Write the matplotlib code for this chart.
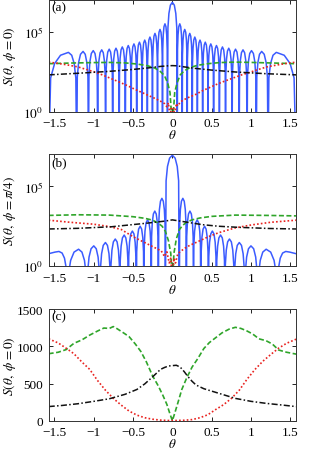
import numpy as np
import matplotlib
matplotlib.use('Agg')
from matplotlib import pyplot as plt

plt.rcParams['font.family'] = ['Liberation Serif', 'DejaVu Serif']
plt.rcParams['mathtext.fontset'] = 'stix'
plt.rcParams['font.size'] = 9
plt.rcParams['axes.linewidth'] = 0.7

HALF_PI = np.pi / 2

# ---- panel (a): S(theta, phi=0), log scale ----
# blue pattern, theta >= 0 side (mirrored): zeros, side lobe maxima (log10)
a_nulls = [0.0625, 0.1253, 0.1886, 0.2527, 0.3176, 0.3844, 0.4529, 0.5236,
           0.5974, 0.6751, 0.7580, 0.8481, 0.9484, 1.0654, 1.2153, 1.5708]
a_peak_theta = [0.094, 0.157, 0.221, 0.285, 0.351, 0.418, 0.488, 0.560,
                0.636, 0.716, 0.802, 0.897, 1.005, 1.134, 1.320]
a_peak_exp = [5.5, 5.15, 4.9, 4.67, 4.48, 4.35, 4.24, 4.14,
              4.05, 3.97, 3.91, 3.87, 3.82, 3.77, 3.71]
a_main_exp = 6.85

a_green_theta = [-1.571, -1.3, -1.0, -0.8, -0.6, -0.45, -0.32, -0.22, -0.15, -0.1, -0.06, -0.03, 0.0,
                 0.03, 0.06, 0.1, 0.15, 0.22, 0.32, 0.45, 0.6, 0.8, 1.0, 1.3, 1.571]
a_green_exp = [3.0, 3.04, 3.07, 3.08, 3.05, 2.98, 2.88, 2.72, 2.5, 2.25, 1.8, 1.2, -1.0,
               1.2, 1.8, 2.3, 2.55, 2.75, 2.9, 3.0, 3.07, 3.1, 3.08, 3.04, 3.0]

a_red_theta = [-1.571, -1.45, -1.33, -1.2, -1.08, -0.98, -0.88, -0.77, -0.66, -0.56, -0.47, -0.38,
               -0.3, -0.22, -0.15, -0.1, -0.07, -0.05, -0.03, -0.015, 0.0, 0.015, 0.03, 0.05, 0.07,
               0.1, 0.15, 0.22, 0.3, 0.38, 0.47, 0.56, 0.66, 0.77, 0.88, 0.98, 1.08, 1.2, 1.33,
               1.45, 1.571]
a_red_exp = [3.1, 3.02, 2.92, 2.8, 2.62, 2.47, 2.28, 2.05, 1.82, 1.6, 1.38, 1.18,
             1.0, 0.82, 0.65, 0.5, 0.3, 0.55, -0.3, 0.2, -1.5, 0.2, -0.3, 0.5, 0.35,
             0.6, 0.75, 0.92, 1.08, 1.3, 1.5, 1.7, 1.9, 2.1, 2.3, 2.45, 2.62, 2.8, 2.92,
             3.02, 3.1]

a_black_theta = [-1.571, -1.2, -0.8, -0.5, -0.3, -0.15, -0.05, 0.0, 0.05, 0.15, 0.3, 0.5, 0.8, 1.2, 1.571]
a_black_exp = [2.3, 2.4, 2.52, 2.64, 2.74, 2.83, 2.87, 2.88, 2.87, 2.8, 2.7, 2.6, 2.48, 2.37, 2.3]

# ---- panel (b): S(theta, phi=pi/4), log scale ----
b_nulls = [0.0885, 0.1777, 0.2684, 0.3614, 0.4577, 0.5589, 0.6672, 0.7854,
           0.9196, 1.0840, 1.3350]
b_peak_theta = [0.133, 0.223, 0.315, 0.409, 0.508, 0.612, 0.725, 0.850, 0.998, 1.191]
b_peak_exp = [4.25, 3.45, 2.9, 2.5, 2.2, 1.95, 1.7, 1.48, 1.27, 1.06]
b_main_exp = 6.95
b_edge_theta = [1.335, 1.345, 1.37, 1.40, 1.44, 1.49, 1.571]
b_edge_exp = [-3.0, -0.2, 0.5, 0.82, 0.92, 0.88, 0.78]

b_green_theta = [-1.571, -1.2, -0.8, -0.5, -0.35, -0.25, -0.18, -0.13, -0.09, -0.05, -0.02, 0.0,
                 0.02, 0.05, 0.09, 0.13, 0.18, 0.25, 0.35, 0.5, 0.8, 1.2, 1.571]
b_green_exp = [3.18, 3.22, 3.2, 3.1, 3.0, 2.88, 2.7, 2.5, 2.2, 1.6, 0.8, -1.0,
               0.8, 1.7, 2.3, 2.55, 2.75, 2.9, 3.02, 3.12, 3.2, 3.18, 3.15]

b_red_theta = [-1.571, -1.3, -1.0, -0.8, -0.65, -0.5, -0.38, -0.28, -0.2, -0.14, -0.1, -0.07, -0.04,
               -0.02, 0.0, 0.02, 0.04, 0.07, 0.1, 0.15, 0.22, 0.33, 0.46, 0.59, 0.8, 1.0, 1.25, 1.571]
b_red_exp = [2.88, 2.75, 2.63, 2.48, 2.3, 1.85, 1.55, 1.3, 1.1, 0.95, 0.6, 0.9, 0.2,
             0.5, -1.0, 0.5, 0.2, 0.8, 0.9, 1.1, 1.3, 1.55, 1.85, 2.1, 2.4, 2.58, 2.75, 2.88]

b_black_theta = [-1.571, -1.2, -0.77, -0.35, -0.1, 0.0, 0.18, 0.38, 0.59, 0.81, 1.23, 1.571]
b_black_exp = [2.33, 2.37, 2.47, 2.68, 2.82, 2.9, 2.76, 2.6, 2.5, 2.44, 2.36, 2.33]

# ---- panel (c): S(theta, phi=0), linear scale ----
c_green_theta = [-1.571, -1.45, -1.35, -1.25, -1.15, -1.05, -0.95, -0.87, -0.8, -0.75, -0.7, -0.62,
                 -0.55, -0.47, -0.4, -0.33, -0.25, -0.18, -0.12, -0.07, -0.03, 0.0, 0.03, 0.07,
                 0.12, 0.18, 0.25, 0.32, 0.4, 0.47, 0.55, 0.63, 0.72, 0.8, 0.87, 0.94, 1.02,
                 1.1, 1.19, 1.27, 1.35, 1.45, 1.571]
c_green = [900, 920, 955, 1040, 1085, 1150, 1205, 1245, 1240, 1265, 1235, 1180,
           1130, 1030, 930, 790, 600, 470, 340, 220, 90, 0, 100, 240,
           420, 570, 720, 830, 970, 1050, 1115, 1180, 1230, 1255, 1240, 1210, 1165,
           1100, 1075, 1030, 950, 920, 895]

c_red_theta = [-1.571, -1.45, -1.35, -1.25, -1.15, -1.05, -0.95, -0.85, -0.75, -0.65, -0.55, -0.45,
               -0.35, -0.25, -0.15, -0.05, 0.0, 0.05, 0.15, 0.25, 0.35, 0.45, 0.55, 0.65, 0.75,
               0.85, 0.95, 1.05, 1.15, 1.25, 1.35, 1.45, 1.571]
c_red = [1100, 1045, 975, 900, 790, 690, 540, 410, 300, 210, 130, 75,
         40, 20, 8, 3, 2, 3, 6, 15, 40, 80, 150, 215, 300,
         410, 560, 690, 800, 890, 975, 1040, 1095]

c_black_theta = [-1.571, -1.4, -1.2, -1.0, -0.8, -0.6, -0.45, -0.35, -0.25, -0.2, -0.15, -0.1, -0.05,
                 0.0, 0.05, 0.1, 0.15, 0.2, 0.25, 0.3, 0.4, 0.6, 0.8, 1.0, 1.2, 1.4, 1.571]
c_black = [190, 205, 228, 260, 295, 355, 420, 495, 590, 640, 690, 715, 735,
           740, 745, 720, 660, 590, 530, 480, 430, 365, 300, 260, 232, 210, 190]

x_ticks = [-1.5, -1, -0.5, 0, 0.5, 1, 1.5]
x_tick_labels = ['\u22121.5', '\u22121', '\u22120.5', '0', '0.5', '1', '1.5']

BLUE = '#3b5bff'
GREEN = '#2fa52a'
RED = '#e8221f'
BLACK = '#111111'

# lobe outline: fraction of the half lobe and drop (decades) from the maximum
LOBE_FRAC = [0.0, 0.1, 0.3, 0.6]
LOBE_DROP = [-9.0, -1.6, -0.7, -0.18]


def lobe_points(left, peak, right, h):
    xs, es = [], []
    for f, d in zip(LOBE_FRAC, LOBE_DROP):
        xs.append(left + f * (peak - left))
        es.append(max(h + d, -3.0))
    xs.append(peak)
    es.append(h)
    for f, d in zip(LOBE_FRAC[::-1], LOBE_DROP[::-1]):
        xs.append(right - f * (right - peak))
        es.append(max(h + d, -3.0))
    return xs, es


def pattern(nulls, peak_theta, peak_exp, main_exp):
    lobes = [(-nulls[0], 0.0, nulls[0], main_exp)]
    for k in range(len(peak_theta)):
        lobes.append((nulls[k], peak_theta[k], nulls[k + 1], peak_exp[k]))
        lobes.append((-nulls[k + 1], -peak_theta[k], -nulls[k], peak_exp[k]))
    lobes.sort(key=lambda l: l[1])
    xs, es = [], []
    for lobe in lobes:
        x, e = lobe_points(*lobe)
        xs += x
        es += e
    return np.array(xs), np.array(es)


def style_axes(ax):
    ax.set_xlim(-HALF_PI, HALF_PI)
    ax.set_xticks(x_ticks)
    ax.set_xticklabels(x_tick_labels)
    ax.tick_params(direction='in', top=True, right=True, length=3, width=0.6,
                   labelsize=9.5, pad=4)
    ax.tick_params(which='minor', length=0)
    for s in ax.spines.values():
        s.set_color('#333333')
    ax.set_xlabel(r'$\theta$', fontsize=9.5)


fig = plt.figure(figsize=(3.10, 4.52), dpi=100)
ax_a = fig.add_axes([0.157, 0.751, 0.798, 0.247])
ax_b = fig.add_axes([0.157, 0.409, 0.798, 0.247])
ax_c = fig.add_axes([0.157, 0.067, 0.798, 0.247])

# (a)
th, ex = pattern(a_nulls, a_peak_theta, a_peak_exp, a_main_exp)
ax_a.semilogy(th, 10.0 ** ex, color=BLUE, lw=1.1)
ax_a.semilogy(a_green_theta, 10.0 ** np.array(a_green_exp), color=GREEN, lw=1.2, ls=(0, (3, 1.5)))
ax_a.semilogy(a_red_theta, 10.0 ** np.array(a_red_exp), color=RED, lw=1.2, ls=(0, (1, 1.3)))
ax_a.semilogy(a_black_theta, 10.0 ** np.array(a_black_exp), color=BLACK, lw=1.1,
              ls=(0, (4, 1.5, 1, 1.5)))
ax_a.set_ylabel(r'$S(\theta,\ \phi=0)$', fontsize=9.5)

# (b)
th, ex = pattern(b_nulls, b_peak_theta, b_peak_exp, b_main_exp)
ax_b.semilogy(th, 10.0 ** ex, color=BLUE, lw=1.1)
edge_e = 10.0 ** np.array(b_edge_exp)
ax_b.semilogy(b_edge_theta, edge_e, color=BLUE, lw=1.1)
ax_b.semilogy(-np.array(b_edge_theta), edge_e, color=BLUE, lw=1.1)
ax_b.semilogy(b_green_theta, 10.0 ** np.array(b_green_exp), color=GREEN, lw=1.2, ls=(0, (3, 1.5)))
ax_b.semilogy(b_red_theta, 10.0 ** np.array(b_red_exp), color=RED, lw=1.2, ls=(0, (1, 1.3)))
ax_b.semilogy(b_black_theta, 10.0 ** np.array(b_black_exp), color=BLACK, lw=1.1,
              ls=(0, (4, 1.5, 1, 1.5)))
ax_b.set_ylabel(r'$S(\theta,\ \phi=\pi/4)$', fontsize=9.5)

for ax in (ax_a, ax_b):
    ax.set_ylim(1, 1e7)
    ax.set_yticks([1, 1e5])
    ax.set_yticklabels([r'$10^0$', r'$10^5$'])
    ax.yaxis.set_minor_locator(matplotlib.ticker.NullLocator())

# (c)
ax_c.plot(c_green_theta, c_green, color=GREEN, lw=1.2, ls=(0, (3, 1.5)))
ax_c.plot(c_red_theta, c_red, color=RED, lw=1.2, ls=(0, (1, 1.3)))
ax_c.plot(c_black_theta, c_black, color=BLACK, lw=1.1, ls=(0, (4, 1.5, 1, 1.5)))
ax_c.set_ylim(0, 1500)
ax_c.set_yticks([0, 500, 1000, 1500])
ax_c.set_ylabel(r'$S(\theta,\ \phi=0)$', fontsize=9.5)

for ax, lab in ((ax_a, '(a)'), (ax_b, '(b)'), (ax_c, '(c)')):
    style_axes(ax)
    ax.yaxis.set_label_coords(-0.125, 0.5)
    ax.xaxis.set_label_coords(0.5, -0.15)
    ax.text(0.012, 0.985, lab, transform=ax.transAxes, ha='left', va='top', fontsize=9.5)

fig.savefig('out.png', dpi=100)
